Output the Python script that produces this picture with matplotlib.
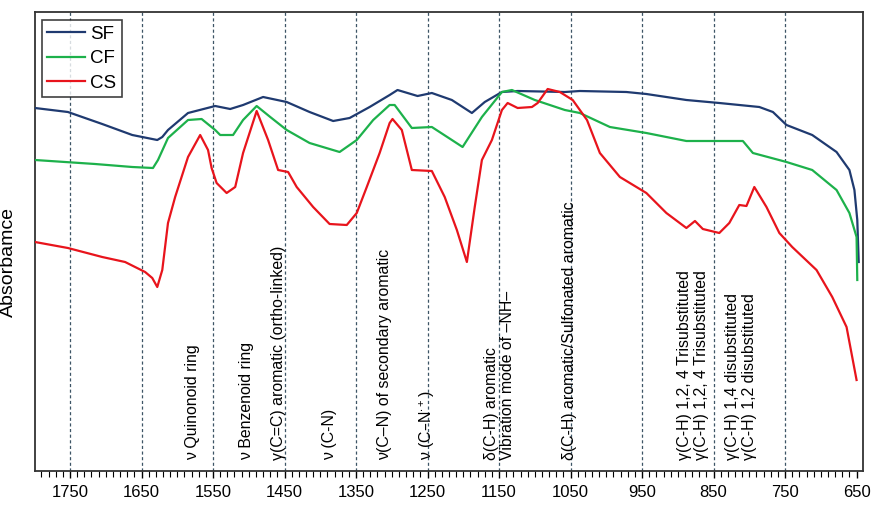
import matplotlib
matplotlib.use("Agg")
import matplotlib.pyplot as plt
from matplotlib.ticker import MultipleLocator
import matplotlib.transforms as mtransforms

plt.rcParams['font.family'] = ['Liberation Sans', 'DejaVu Sans']
plt.rcParams['mathtext.default'] = 'regular'

# ---- data (wavenumber cm-1, absorbance a.u.) ----
sf_wn = [1799, 1753, 1705, 1663, 1628, 1621, 1613, 1585, 1547, 1526, 1508, 1480, 1447, 1415,
         1382, 1359, 1331, 1303, 1292, 1264, 1244, 1216, 1188, 1170, 1146, 1124, 1058, 1037,
         972, 944, 888, 842, 786, 767, 748, 712, 678, 660, 653, 649, 647]
sf_abs = [3.63, 3.59, 3.47, 3.36, 3.31, 3.34, 3.41, 3.58, 3.65, 3.62, 3.66, 3.74, 3.69, 3.59,
          3.50, 3.53, 3.64, 3.76, 3.81, 3.75, 3.78, 3.71, 3.58, 3.69, 3.79, 3.80, 3.79, 3.80,
          3.79, 3.77, 3.71, 3.68, 3.64, 3.59, 3.46, 3.36, 3.19, 3.01, 2.81, 2.51, 2.09]

cf_wn = [1799, 1715, 1663, 1634, 1627, 1613, 1585, 1566, 1547, 1540, 1522, 1508, 1489, 1470,
         1447, 1415, 1373, 1349, 1326, 1303, 1296, 1272, 1244, 1216, 1201, 1174, 1146, 1132,
         1100, 1058, 1037, 995, 944, 888, 842, 809, 795, 748, 712, 678, 660, 650, 649]
cf_abs = [3.11, 3.07, 3.04, 3.03, 3.11, 3.33, 3.51, 3.52, 3.41, 3.36, 3.36, 3.51, 3.65, 3.54,
          3.41, 3.28, 3.19, 3.31, 3.51, 3.66, 3.66, 3.43, 3.44, 3.31, 3.24, 3.54, 3.79, 3.81,
          3.71, 3.61, 3.58, 3.44, 3.38, 3.30, 3.30, 3.30, 3.18, 3.09, 3.01, 2.81, 2.58, 2.34, 1.91]

cs_wn = [1799, 1753, 1705, 1673, 1645, 1635, 1628, 1621, 1613, 1603, 1585, 1568, 1557, 1552,
         1545, 1531, 1519, 1508, 1489, 1473, 1459, 1445, 1433, 1410, 1387, 1363, 1349, 1335,
         1317, 1303, 1299, 1286, 1272, 1244, 1226, 1209, 1195, 1184, 1174, 1160, 1146, 1138,
         1124, 1104, 1096, 1082, 1065, 1047, 1027, 1009, 981, 944, 916, 888, 876, 865, 842,
         828, 814, 804, 793, 776, 758, 740, 706, 684, 664, 650]
cs_abs = [2.29, 2.23, 2.14, 2.09, 1.99, 1.93, 1.84, 2.01, 2.48, 2.74, 3.14, 3.36, 3.21, 3.03,
          2.88, 2.78, 2.84, 3.18, 3.60, 3.31, 3.01, 2.99, 2.84, 2.64, 2.47, 2.46, 2.58, 2.84,
          3.18, 3.48, 3.52, 3.41, 3.01, 3.00, 2.74, 2.41, 2.09, 2.64, 3.11, 3.31, 3.61, 3.68,
          3.63, 3.64, 3.68, 3.82, 3.79, 3.71, 3.51, 3.18, 2.94, 2.78, 2.58, 2.43, 2.50, 2.42, 2.38,
          2.48, 2.66, 2.65, 2.84, 2.64, 2.38, 2.24, 2.01, 1.74, 1.44, 0.91]

series_names = ['SF', 'CF', 'CS']
series_colors = ['#1f3a70', '#1db14b', '#e8141c']

tick_values = [1750, 1650, 1550, 1450, 1350, 1250, 1150, 1050, 950, 850, 750, 650]
grid_values = [1750, 1650, 1550, 1450, 1350, 1250, 1150, 1050, 950, 850, 750]

band_positions = [1579, 1503, 1459, 1387, 1310, 1251, 1160, 1138, 1051, 890, 867, 823, 800]
band_labels = [
    "ν Quinonoid ring",
    "ν Benzenoid ring",
    "γ(C=C) aromatic (ortho-linked)",
    "ν (C-N)",
    "ν(C–N) of secondary aromatic",
    r"ν (C–N$^{\bullet+}$)",
    "δ(C-H) aromatic",
    "Vibration mode of –NH–",
    "δ(C-H) aromatic/Sulfonated aromatic",
    "γ(C-H) 1,2, 4 Trisubstituted",
    "γ(C-H) 1,2, 4 Trisubstituted",
    "γ(C-H) 1,4 disubstituted",
    "γ(C-H) 1,2 disubstituted",
]

# ---- figure ----
fig = plt.figure(figsize=(8.77, 5.05), dpi=100)
ax = fig.add_axes([35/877, 34/505, (863-35)/877, (471-12)/505])

for v in grid_values:
    ax.axvline(v, color='#3d5566', lw=0.9, ls=(0, (2.5, 2)), zorder=1)

for wn, ab, name, col in zip([sf_wn, cf_wn, cs_wn], [sf_abs, cf_abs, cs_abs],
                             series_names, series_colors):
    ax.plot(wn, ab, color=col, lw=1.6, label=name, zorder=3)

ax.set_xlim(1799, 641)
ax.set_ylim(0, 4.59)
ax.set_xticks(tick_values)
ax.xaxis.set_minor_locator(MultipleLocator(10))
ax.tick_params(axis='x', which='major', direction='out', length=5, width=1, labelsize=12, pad=5)
ax.tick_params(axis='x', which='minor', direction='out', length=4, width=0.8)
ax.set_yticks([])
for s in ax.spines.values():
    s.set_color('#333333')
    s.set_linewidth(1.3)

ax.set_ylabel("Absorbamce", fontsize=14, labelpad=6)
ax.yaxis.set_label_coords(-0.022, 0.455)

trans = mtransforms.blended_transform_factory(ax.transData, ax.transAxes)
for x, lab in zip(band_positions, band_labels):
    ax.text(x, 0.024, lab, rotation=90, ha='center', va='bottom', fontsize=11.4,
            transform=trans, zorder=4)

leg = ax.legend(loc='upper left', bbox_to_anchor=(0.008, 0.983), fontsize=13.5,
                frameon=True, fancybox=False, edgecolor='#111111', handlelength=2.0,
                handletextpad=0.3, labelspacing=0.4, borderpad=0.3, borderaxespad=0)
leg.get_frame().set_linewidth(1.2)

fig.savefig("out.png", dpi=100)
